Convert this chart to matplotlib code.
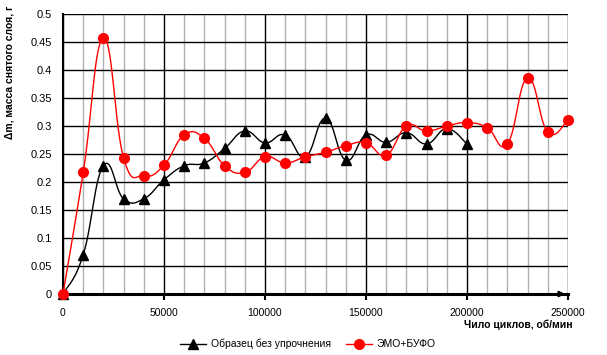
import numpy as np
import matplotlib
matplotlib.use("Agg")
import matplotlib.pyplot as plt
from matplotlib.lines import Line2D

plt.rcParams['font.family'] = ['Liberation Sans', 'DejaVu Sans']

x_black = [0, 10000, 20000, 30000, 40000, 50000, 60000, 70000, 80000, 90000, 100000,
           110000, 120000, 130000, 140000, 150000, 160000, 170000, 180000, 190000, 200000]
y_black = [0.0, 0.07, 0.229, 0.17, 0.17, 0.204, 0.229, 0.234, 0.26, 0.291, 0.27,
           0.284, 0.245, 0.314, 0.239, 0.284, 0.271, 0.288, 0.268, 0.295, 0.268]

x_red = [0, 10000, 20000, 30000, 40000, 50000, 60000, 70000, 80000, 90000, 100000,
         110000, 120000, 130000, 140000, 150000, 160000, 170000, 180000, 190000, 200000,
         210000, 220000, 230000, 240000, 250000]
y_red = [0.0, 0.217, 0.457, 0.243, 0.211, 0.230, 0.284, 0.278, 0.229, 0.217, 0.245,
         0.234, 0.245, 0.253, 0.265, 0.270, 0.248, 0.300, 0.291, 0.300, 0.306,
         0.297, 0.268, 0.386, 0.289, 0.311]

label_black = "Образец без упрочнения"
label_red = "ЭМО+БУФО"
xlabel = "Чило циклов, об/мин"
ylabel = "Δm, масса снятого слоя, г"
xticks = [0, 50000, 100000, 150000, 200000, 250000]
yticks = [0, 0.05, 0.1, 0.15, 0.2, 0.25, 0.3, 0.35, 0.4, 0.45, 0.5]


def smooth(xs, ys, k=0.22, n=30):
    xs = np.asarray(xs, float); ys = np.asarray(ys, float)
    px = np.concatenate([[xs[0]], xs, [xs[-1]]])
    py = np.concatenate([[ys[0]], ys, [ys[-1]]])
    ox, oy = [], []
    t = np.linspace(0, 1, n)
    for i in range(1, len(px) - 2):
        p0x, p1x, p2x, p3x = px[i-1], px[i], px[i+1], px[i+2]
        p0y, p1y, p2y, p3y = py[i-1], py[i], py[i+1], py[i+2]
        c1x = p1x + (p2x - p0x) * k; c1y = p1y + (p2y - p0y) * k
        c2x = p2x - (p3x - p1x) * k; c2y = p2y - (p3y - p1y) * k
        bx = (1-t)**3*p1x + 3*(1-t)**2*t*c1x + 3*(1-t)*t**2*c2x + t**3*p2x
        by = (1-t)**3*p1y + 3*(1-t)**2*t*c1y + 3*(1-t)*t**2*c2y + t**3*p2y
        ox.extend(bx); oy.extend(by)
    return np.array(ox), np.array(oy)


fig = plt.figure(figsize=(6.07, 3.55), dpi=100)
ax = fig.add_axes([63/607, 1-294/355, (568-63)/607, (294-14)/355])
ax.set_xlim(0, 250000)
ax.set_ylim(0, 0.5)

ax.set_xticks(xticks)
ax.set_xticks(np.arange(0, 250001, 10000), minor=True)
ax.set_yticks(yticks)
ax.grid(which='minor', axis='x', color='#b0b0b0', lw=1)
ax.grid(which='major', axis='both', color='black', lw=1)
ax.set_axisbelow(True)

ax.set_xticklabels([str(v) for v in xticks], fontsize=7.5)
ax.set_yticklabels([f"{v:g}" for v in yticks], fontsize=8)
ax.tick_params(axis='x', which='major', direction='out', length=4, width=1.5, pad=6)
ax.tick_params(axis='x', which='minor', length=0)
ax.tick_params(axis='y', length=0, pad=8)

for s in ['top', 'right']:
    ax.spines[s].set_visible(False)
ax.spines['left'].set_linewidth(1.5)
ax.spines['bottom'].set_linewidth(2.2)

sx, sy = smooth(x_black, y_black)
ax.plot(sx, sy, color='black', lw=1, zorder=3)
ax.plot(x_black, y_black, ls='none', marker='^', color='black', ms=6.5, zorder=4, clip_on=False)

sx, sy = smooth(x_red, y_red)
ax.plot(sx, sy, color='red', lw=1, zorder=5)
ax.plot(x_red, y_red, ls='none', marker='o', color='red', ms=7, zorder=6, clip_on=False)

ax.annotate('', xy=(250000, 0), xytext=(243000, 0),
            arrowprops=dict(arrowstyle='-|>', color='black', lw=1.5, mutation_scale=8),
            annotation_clip=False)

ax.set_xlabel(xlabel, fontsize=7.5, fontweight='bold', ha='right', x=1.01, labelpad=1)
fig.text(10/607, 1-139/355, ylabel, rotation=90, fontsize=7.5, fontweight='bold',
         ha='center', va='bottom')

handles = [Line2D([], [], color='black', marker='^', ms=6.5, lw=1),
           Line2D([], [], color='red', marker='o', ms=7, lw=1)]
fig.legend(handles, [label_black, label_red], loc='center', bbox_to_anchor=(308/607, 11/355),
           ncol=2, frameon=False, fontsize=7.5, handlelength=2.5, columnspacing=1.5,
           handletextpad=0.4)

fig.savefig('out.png', dpi=100)
